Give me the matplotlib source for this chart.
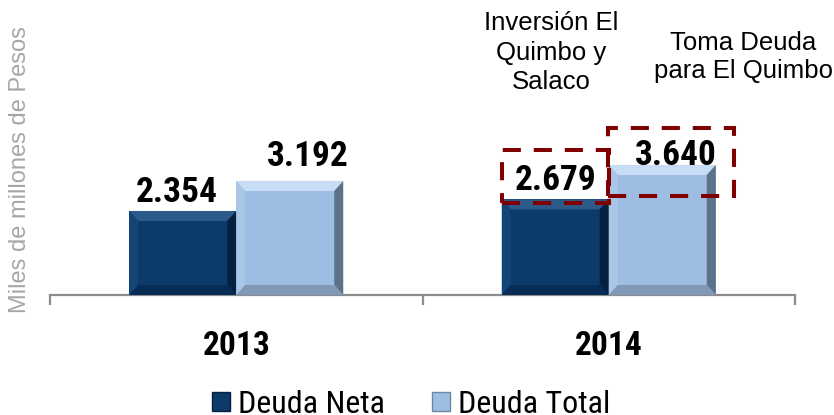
import numpy as np
import matplotlib
matplotlib.use('Agg')
import matplotlib.pyplot as plt
from matplotlib import font_manager
from matplotlib.patches import Polygon, Rectangle, Patch

# datos
anios = ['2013', '2014']
deuda_neta = [2354, 2679]
deuda_total = [3192, 3640]
etiquetas_neta = ['2.354', '2.679']
etiquetas_total = ['3.192', '3.640']
series = ['Deuda Neta', 'Deuda Total']
nota_neta = 'Inversión El\nQuimbo y\nSalaco'
nota_total = 'Toma Deuda\npara El Quimbo'
ylabel = 'Miles de millones de Pesos'

# fuente estrecha con negrita si existe
fuentes = font_manager.fontManager.ttflist
con_bold = {f.name for f in fuentes if isinstance(f.weight, int) and f.weight >= 700}
nombres = {f.name for f in fuentes}
preferidas = ['Liberation Sans Narrow', 'Arial Narrow', 'Roboto Condensed', 'PT Sans Narrow',
              'Archivo Narrow', 'Fira Sans Condensed', 'IBM Plex Sans Condensed',
              'Open Sans Condensed', 'Barlow Semi Condensed', 'Encode Sans Condensed']
narrow_b = next((n for n in preferidas if n in con_bold), 'Liberation Sans')
narrow = next((n for n in preferidas if n in nombres), 'Liberation Sans')

c_neta = '#0b3a6b'
c_total = '#9dbde2'
rojo = '#800000'

W, H = 834, 415
fig = plt.figure(figsize=(W / 100, H / 100), dpi=100)
ax = fig.add_axes([50 / W, 120 / H, 745 / W, 295 / H])
ymax = 295 / 0.0357
ax.set_xlim(-0.5, 1.5)
ax.set_ylim(0, ymax)

px_x = 2.0 / 745      # unidades x por pixel
px_y = ymax / 295     # unidades y por pixel

x = np.arange(len(anios))
bw = 107 * px_x
b1 = ax.bar(x - bw / 2, deuda_neta, bw, color=c_neta, zorder=2)
b2 = ax.bar(x + bw / 2, deuda_total, bw, color=c_total, zorder=2)

# efecto biselado
def bisel(bar, top, left, right, bottom):
    x0, y0 = bar.get_x(), bar.get_y()
    w, h = bar.get_width(), bar.get_height()
    dx, dy = 9 * px_x, 10 * px_y
    x1, y1 = x0 + w, y0 + h
    caras = [
        ([(x0, y1), (x1, y1), (x1 - dx, y1 - dy), (x0 + dx, y1 - dy)], top),
        ([(x0, y0), (x0, y1), (x0 + dx, y1 - dy), (x0 + dx, y0 + dy)], left),
        ([(x1, y0), (x1, y1), (x1 - dx, y1 - dy), (x1 - dx, y0 + dy)], right),
        ([(x0, y0), (x1, y0), (x1 - dx, y0 + dy), (x0 + dx, y0 + dy)], bottom),
    ]
    for pts, c in caras:
        ax.add_patch(Polygon(pts, closed=True, facecolor=c, edgecolor='none', zorder=3))

for b in b1:
    bisel(b, '#2c5a8a', '#124476', '#06203f', '#072c55')
for b in b2:
    bisel(b, '#c6ddf3', '#a9c6e6', '#5d7189', '#8099b6')

# etiquetas de valor (offset en pixeles: dx, dy)
off_neta = [(-6, 9), (0, 9)]
off_total = [(18, 15), (13, 0)]
for bars, labs, offs in [(b1, etiquetas_neta, off_neta), (b2, etiquetas_total, off_total)]:
    for b, lab, (ox, oy) in zip(bars, labs, offs):
        ax.annotate(lab, (b.get_x() + b.get_width() / 2, b.get_height()),
                    xytext=(ox * 0.72, oy * 0.72), textcoords='offset points',
                    ha='center', va='baseline', fontsize=25.5, fontweight='bold',
                    family=narrow_b, zorder=5)

# recuadros punteados 2014
bn, bt = b1[1], b2[1]
ax.add_patch(Rectangle((bn.get_x(), bn.get_height() - 4 * px_y), bn.get_width(), 53 * px_y,
                       fill=False, edgecolor=rojo, lw=2.9, ls=(0, (4.5, 3.2)), zorder=6, clip_on=False))
ax.add_patch(Rectangle((bt.get_x() - 1 * px_x, bt.get_height() - 31 * px_y), bt.get_width() + 19 * px_x, 68 * px_y,
                       fill=False, edgecolor=rojo, lw=2.9, ls=(0, (4.5, 3.2)), zorder=6, clip_on=False))

# notas
fig.text(551 / W, 1 - 11 / H, nota_neta, ha='center', va='top', fontsize=18.5,
         family='Liberation Sans', linespacing=1.3)
fig.text(743 / W, 1 - 31 / H, nota_total, ha='center', va='top', fontsize=18.5,
         family='Liberation Sans', linespacing=1.2)

# ejes
for s in ['top', 'right', 'left']:
    ax.spines[s].set_visible(False)
ax.spines['bottom'].set_color('#8c8c8c')
ax.spines['bottom'].set_linewidth(1.6)
ax.set_yticks([])
ax.set_xticks(x)
ax.set_xticklabels(anios, fontsize=24, fontweight='bold', family=narrow_b)
ax.tick_params(axis='x', which='major', length=0, pad=25)
ax.set_xticks([-0.5, 0.5, 1.5], minor=True)
ax.tick_params(axis='x', which='minor', length=7, width=1.6, color='#8c8c8c', direction='out')

fig.text(20 / W, 1 - 170 / H, ylabel, rotation=90, ha='center', va='center',
         fontsize=17, color='#a6a6a6', family='Liberation Sans')

handles = [Patch(facecolor=c_neta, edgecolor='#052040'), Patch(facecolor=c_total, edgecolor='#6d86a3')]
fig.legend(handles, series, loc='lower left', bbox_to_anchor=(212 / W, -4 / H), ncol=2,
           frameon=False, prop={'family': narrow, 'size': 23}, handlelength=0.55,
           handleheight=0.55, handletextpad=0.25, columnspacing=1.5, borderpad=0, borderaxespad=0)

fig.savefig('out.png', dpi=100)
